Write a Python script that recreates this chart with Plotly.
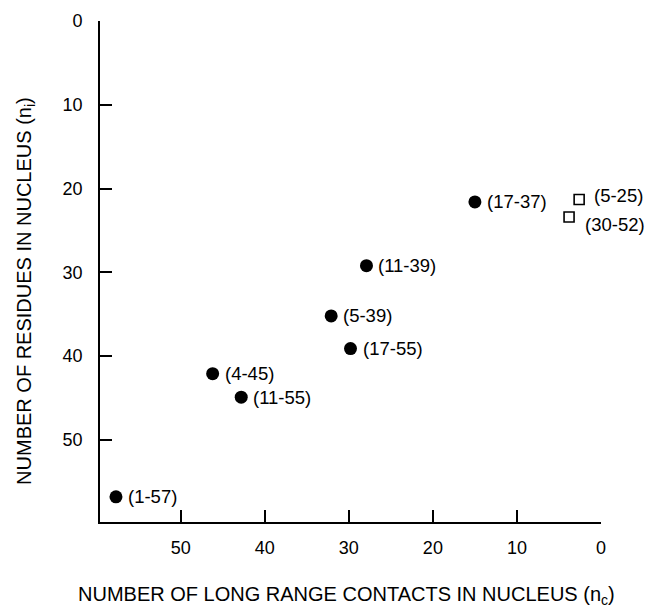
import plotly.graph_objects as go

# Data
circle_labels = ["(1-57)", "(4-45)", "(11-55)", "(5-39)", "(17-55)", "(11-39)", "(17-37)"]
circle_nc = [57.7, 46.2, 42.8, 32.1, 29.8, 27.9, 15.0]
circle_ni = [56.8, 42.1, 44.9, 35.2, 39.1, 29.2, 21.6]

square_labels = ["(5-25)", "(30-52)"]
square_nc = [2.6, 3.8]
square_ni = [21.3, 23.4]

x_ticks = [50, 40, 30, 20, 10, 0]
y_ticks = [0, 10, 20, 30, 40, 50]

FONT = "Liberation Sans, Arial, sans-serif"

fig = go.Figure()
fig.add_trace(go.Scatter(
    x=circle_nc, y=circle_ni, mode="markers",
    marker=dict(symbol="circle", size=13, color="black"),
    showlegend=False, hoverinfo="skip"))
fig.add_trace(go.Scatter(
    x=square_nc, y=square_ni, mode="markers",
    marker=dict(symbol="square-open", size=10, color="black", line=dict(width=1.6, color="black")),
    showlegend=False, hoverinfo="skip"))

label_shift = {"(5-25)": (13, 4), "(30-52)": (14, -7)}
for lbl, xv, yv in list(zip(circle_labels, circle_nc, circle_ni)) + list(zip(square_labels, square_nc, square_ni)):
    dx, dy = label_shift.get(lbl, (10, 0))
    fig.add_annotation(x=xv, y=yv, text=lbl, showarrow=False, xanchor="left", yanchor="middle",
                       xshift=dx, yshift=dy, font=dict(family=FONT, size=18.5, color="black"))

fig.add_annotation(xref="paper", yref="paper", x=0.493, y=-0.146, showarrow=False,
                   text="NUMBER OF LONG RANGE CONTACTS IN NUCLEUS (n<sub>c</sub>)",
                   xanchor="center", yanchor="middle",
                   font=dict(family=FONT, size=20, color="black"))
fig.add_annotation(xref="paper", yref="paper", x=-0.15, y=0.461, showarrow=False,
                   text="NUMBER OF RESIDUES IN NUCLEUS (n<sub>i</sub>)", textangle=-90,
                   xanchor="center", yanchor="middle",
                   font=dict(family=FONT, size=20, color="black"))

axis_common = dict(showline=True, linecolor="black", linewidth=1.8, showgrid=False, zeroline=False,
                   ticks="inside", ticklen=12, tickwidth=1.6, tickcolor="black",
                   tickfont=dict(family=FONT, size=18, color="black"), mirror=False)

fig.update_layout(
    width=647, height=610,
    margin=dict(l=100, r=46, t=21, b=88),
    paper_bgcolor="white", plot_bgcolor="white",
    xaxis=dict(range=[59.6, 0], tickvals=x_ticks, ticktext=[str(v) for v in x_ticks],
               ticklabelstandoff=8, **axis_common),
    yaxis=dict(range=[59.8, 0], tickvals=y_ticks, ticktext=[str(v) for v in y_ticks],
               ticklabelstandoff=12, **axis_common),
)

fig.write_html("out.html")
